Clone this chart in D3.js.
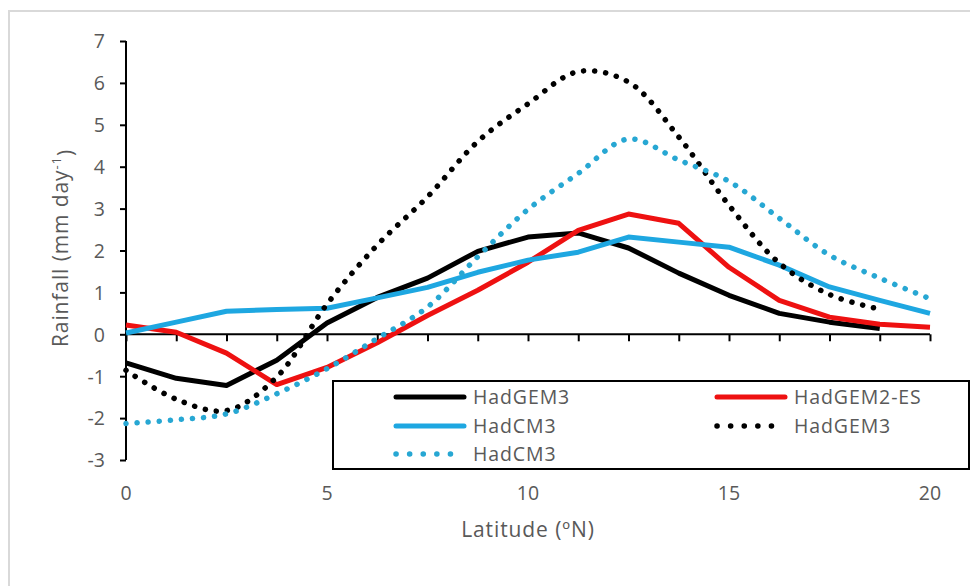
<!DOCTYPE html>
<html><head><meta charset="utf-8">
<script src="https://cdn.jsdelivr.net/npm/d3@7"></script>
<style>body{margin:0;background:#fff}svg{display:block}text{font-family:"Open Sans",Lato,sans-serif}</style>
</head><body>
<svg id="c" width="970" height="586"></svg>
<script>
const latitudes = [0,1.25,2.5,3.75,5,6.25,7.5,8.75,10,11.25,12.5,13.75,15,16.25,17.5,18.75,20];
const hadgem3 = [-0.68,-1.05,-1.22,-0.62,0.27,0.88,1.34,1.98,2.32,2.42,2.06,1.46,0.93,0.5,0.29,0.14];
const hadgem2es = [0.22,0.05,-0.45,-1.2,-0.79,-0.2,0.45,1.05,1.72,2.48,2.87,2.65,1.6,0.81,0.41,0.24,0.17];
const hadcm3 = [0.03,0.29,0.55,0.59,0.62,0.87,1.12,1.48,1.77,1.96,2.32,2.2,2.08,1.65,1.13,0.81,0.5];
const hadgem3Dot = [-0.86,-1.55,-1.82,-1.02,0.72,2.13,3.28,4.6,5.5,6.27,6.02,4.71,3.08,1.7,0.95,0.6];
const hadcm3Dot = [-2.13,-2.04,-1.9,-1.42,-0.82,-0.1,0.65,1.85,2.98,3.84,4.66,4.16,3.65,2.77,1.89,1.34,0.85];
const yTicks = [-3,-2,-1,0,1,2,3,4,5,6,7];
const xLabels = [0,5,10,15,20];

const series = [
  {name:"HadGEM3", values:hadgem3, color:"#000000", dotted:false},
  {name:"HadGEM2-ES", values:hadgem2es, color:"#ee1111", dotted:false},
  {name:"HadCM3", values:hadcm3, color:"#1ea7e1", dotted:false},
  {name:"HadGEM3", values:hadgem3Dot, color:"#000000", dotted:true},
  {name:"HadCM3", values:hadcm3Dot, color:"#27a7d3", dotted:true}
];

const svg = d3.select("#c");
svg.append("rect").attr("x",9).attr("y",11).attr("width",980).attr("height",600)
  .attr("fill","none").attr("stroke","#d9d9d9").attr("stroke-width",2);

const x = d3.scaleLinear().domain([0,20]).range([126,930]);
const y = d3.scaleLinear().domain([-3,7]).range([460,41]);

const fmt = d => String(d).replace("\u2212","-");

const yAxis = svg.append("g").attr("transform","translate(126,0)")
  .call(d3.axisLeft(y).tickValues(yTicks).tickSize(6).tickPadding(15).tickFormat(fmt));
yAxis.select(".domain").attr("stroke","#000").attr("stroke-width",2).attr("d","M0,"+y(-3)+"V"+y(7));
yAxis.selectAll(".tick line").attr("stroke","#000").attr("stroke-width",2);
yAxis.selectAll(".tick text").attr("fill","#595959").attr("font-size",19.5).attr("dy","0.35em").attr("y",0)
  .attr("font-family","'Open Sans',sans-serif");

const xAxis = svg.append("g").attr("transform","translate(0,"+y(0)+")")
  .call(d3.axisBottom(x).tickValues(latitudes).tickSize(7).tickFormat(""));
xAxis.select(".domain").attr("stroke","#000").attr("stroke-width",2).attr("d","M"+x(0)+",0H"+x(20));
xAxis.selectAll(".tick line").attr("stroke","#000").attr("stroke-width",2);

svg.append("g").selectAll("text").data(xLabels).join("text")
  .attr("x",d=>x(d)).attr("y",493).attr("dy","0.35em").attr("text-anchor","middle")
  .attr("fill","#595959").attr("font-size",19.5).text(d=>d);

const line = d3.line().x((d,i)=>x(latitudes[i])).y(d=>y(d));
series.forEach(s=>{
  const p = svg.append("path").datum(s.values)
    .attr("fill","none").attr("stroke",s.color)
    .attr("d", line.curve(s.dotted ? d3.curveCatmullRom.alpha(0.5) : d3.curveLinear)(s.values));
  if(s.dotted){
    p.attr("stroke-width",5.5).attr("stroke-linecap","round").attr("stroke-dasharray","0.1 11");
  } else {
    p.attr("stroke-width",5).attr("stroke-linejoin","round");
  }
});

svg.append("text").attr("x",528).attr("y",530).attr("dy","0.35em").attr("text-anchor","middle")
  .attr("fill","#595959").attr("font-size",21).attr("letter-spacing",0.9).text("Latitude (ºN)");
const yt = svg.append("text").attr("transform","translate(61,248) rotate(-90)").attr("dy","0.35em")
  .attr("text-anchor","middle").attr("fill","#595959").attr("font-size",21).attr("letter-spacing",0.9);
yt.append("tspan").text("Rainfall (mm day");
yt.append("tspan").attr("font-size",13).attr("dy","-0.6em").text("-1");
yt.append("tspan").attr("dy","0.6em").text(")");

svg.append("rect").attr("x",333).attr("y",381).attr("width",636).attr("height",88)
  .attr("fill","#fff").attr("stroke","#000").attr("stroke-width",2);
const legPos = [[394,397],[715,397],[394,426],[715,426],[394,454]];
series.forEach((s,k)=>{
  const [lx,ly] = legPos[k];
  const l = svg.append("line").attr("x1",lx+2).attr("x2",lx+70).attr("y1",ly).attr("y2",ly)
    .attr("stroke",s.color).attr("stroke-width",5).attr("stroke-linecap","round");
  if(s.dotted) l.attr("stroke-width",5.5).attr("stroke-dasharray","0.1 13.5");
  svg.append("text").attr("x",lx+79).attr("y",ly).attr("dy","0.35em")
    .attr("fill","#595959").attr("font-size",19.5).attr("letter-spacing",0.9).text(s.name);
});
</script>
</body></html>
